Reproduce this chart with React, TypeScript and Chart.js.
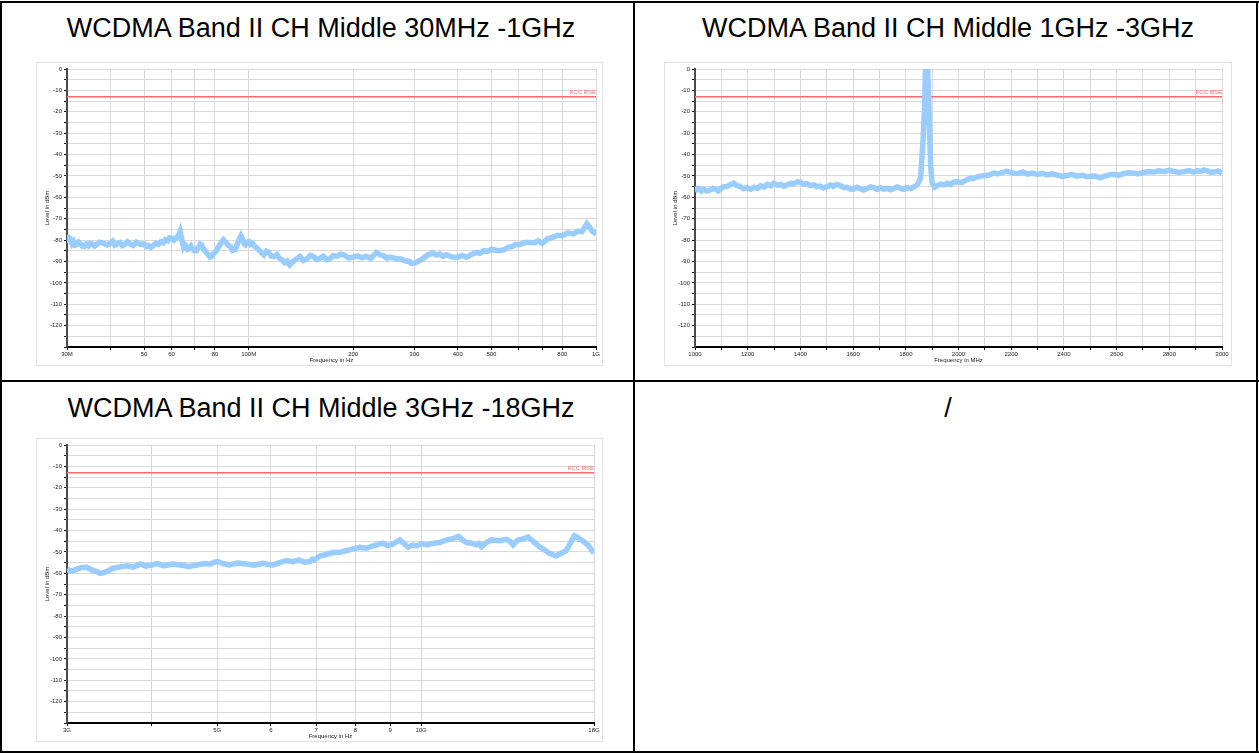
import React, { useEffect, useRef } from 'react';
import { Chart, registerables } from 'chart.js';

Chart.register(...registerables);

// ---------------- data ----------------
const TITLE_LOW = 'WCDMA Band II CH Middle 30MHz -1GHz';
const TITLE_MID = 'WCDMA Band II CH Middle 1GHz -3GHz';
const TITLE_HIGH = 'WCDMA Band II CH Middle 3GHz -18GHz';
const TITLE_EMPTY = '/';

const Y_TITLE = 'Level in dBm';
const LIMIT_LEVEL = -13;
const LIMIT_LABEL = 'FCC RSE';
const Y_MIN = -130;
const Y_MAX = 0;
const Y_GRID = [0, -5, -10, -15, -20, -25, -30, -35, -40, -45, -50, -55, -60, -65, -70, -75, -80, -85, -90, -95, -100, -105, -110, -115, -120, -125, -130];
const Y_LABELS = ['0', '', '-10', '', '-20', '', '-30', '', '-40', '', '-50', '', '-60', '', '-70', '', '-80', '', '-90', '', '-100', '', '-110', '', '-120', '', ''];

// 30 MHz - 1 GHz : [frequency MHz, level dBm]
const LOW_GRID = [30, 40, 50, 60, 70, 80, 100, 200, 300, 400, 500, 600, 700, 800, 1000];
const LOW_LABELS = ['30M', '', '50', '60', '', '80', '100M', '200', '300', '400', '500', '', '', '800', '1G'];
const LOW_TRACE: [number, number][] = [
  [30, -77.6], [30.3, -79.8], [30.6, -79.5], [31.0, -81.6], [31.3, -80.7], [31.6, -82.3], [32.0, -82.0], [32.4, -81.0],
  [32.8, -81.8], [33.2, -82.9], [33.6, -83.0], [34.1, -81.9], [34.6, -82.7], [35.0, -81.5], [35.5, -81.9], [36.0, -82.8],
  [36.5, -82.2], [37.2, -81.0], [38.0, -81.3], [39.0, -82.3], [40, -81.5], [40.6, -80.6], [41.2, -82.4], [41.9, -81.7],
  [42.6, -81.2], [43.3, -82.6], [44.0, -82.0], [44.8, -80.8], [45.6, -81.8], [46.5, -82.5], [47.5, -81.0], [48.7, -81.9],
  [50, -81.8], [50.7, -83.0], [51.5, -82.5], [52.3, -83.4], [53.1, -82.7], [54.0, -81.5], [55.0, -82.0], [55.9, -80.8],
  [56.8, -81.2], [57.6, -79.8], [58.5, -80.3], [59.2, -78.9], [60, -79.1], [61.0, -80.0], [62.1, -78.8], [62.8, -78.0],
  [63.5, -76.0], [64.2, -79.5], [64.9, -83.0], [65.4, -82.0], [66.0, -82.6], [66.8, -84.3], [67.7, -83.8], [68.3, -82.9],
  [69.0, -84.2], [69.9, -85.0], [70.8, -84.9], [71.4, -83.5], [72.0, -83.0], [72.6, -81.9], [73.2, -82.2], [74.1, -84.0],
  [75.0, -85.0], [75.8, -86.2], [76.6, -86.9], [77.4, -88.0], [78.3, -87.7], [79.1, -86.5], [80, -85.8], [81.0, -84.6],
  [82.0, -83.0], [83.3, -81.2], [84.6, -79.9], [85.5, -80.8], [86.5, -81.5], [87.5, -82.6], [88.6, -83.0], [90.0, -84.9],
  [91.5, -84.4], [92.5, -82.5], [93.5, -80.5], [94.3, -79.0], [95, -78.0], [95.8, -79.2], [96.5, -80.5], [97.2, -81.9],
  [97.8, -82.2], [98.9, -81.0], [100, -80.7], [101.2, -82.0], [102.5, -81.5], [104.2, -83.0], [105.9, -83.8], [108.2, -85.5],
  [110.6, -86.9], [112.5, -85.2], [114.3, -85.8], [116.3, -87.5], [118.4, -87.7], [120.5, -86.8], [122.6, -88.5], [124.7, -89.2],
  [126.8, -90.5], [129.0, -89.8], [131.2, -91.6], [133.4, -90.4], [135.6, -89.6], [138.0, -88.6], [140.5, -87.7], [143.7, -89.5],
  [147, -88.9], [150.3, -87.2], [153.6, -87.7], [157.0, -89.0], [160.5, -88.5], [164.1, -87.6], [167.8, -89.3], [171, -88.9],
  [175, -87.3], [180, -87.5], [184, -86.6], [188, -86.9], [194, -88.4], [200, -88.0], [206, -87.4], [212, -88.3],
  [218, -87.6], [225, -88.5], [229, -87.2], [233, -85.8], [239, -86.9], [245, -87.5], [250, -88.4], [256, -88.0],
  [265, -88.6], [275, -88.9], [282, -89.7], [290, -90.0], [295, -90.9], [300, -90.8], [308, -89.9], [316, -88.9],
  [327, -87.0], [339, -86.1], [347, -87.0], [355, -86.5], [363, -87.6], [371, -86.9], [385, -87.9], [400, -88.0],
  [412, -87.2], [424, -88.0], [438, -86.7], [453, -85.8], [464, -86.2], [475, -85.0], [487, -85.3], [500, -84.3],
  [520, -85.0], [543, -84.6], [558, -83.4], [575, -83.0], [588, -82.0], [600, -82.2], [630, -81.0], [665, -81.2],
  [682, -80.4], [700, -81.5], [725, -79.4], [753, -78.6], [775, -77.8], [800, -78.0], [830, -76.6], [862, -77.1],
  [888, -75.8], [912, -76.0], [925, -74.5], [940, -72.5], [950, -73.6], [960, -74.0], [970, -75.4], [980, -76.0],
  [990, -76.3], [1000, -77.6],
];

// 1 GHz - 3 GHz : [frequency MHz, level dBm]
const MID_GRID = [1000, 1100, 1200, 1300, 1400, 1500, 1600, 1700, 1800, 1900, 2000, 2100, 2200, 2300, 2400, 2500, 2600, 2700, 2800, 2900, 3000];
const MID_LABELS = ['1000', '', '1200', '', '1400', '', '1600', '', '1800', '', '2000', '', '2200', '', '2400', '', '2600', '', '2800', '', '3000'];
const MID_TRACE: [number, number][] = [
  [1000, -55.0], [1008, -56.4], [1015, -56.0], [1024, -57.0], [1033, -56.2], [1045, -57.1], [1058, -56.6], [1068, -55.8],
  [1080, -56.3], [1088, -57.0], [1097, -55.9], [1108, -55.1], [1120, -55.0], [1134, -54.1], [1147, -53.4], [1158, -54.6],
  [1170, -54.8], [1184, -56.0], [1198, -55.5], [1212, -56.2], [1225, -55.3], [1237, -55.8], [1249, -54.6], [1262, -55.2],
  [1275, -54.0], [1287, -54.6], [1299, -53.4], [1312, -54.3], [1325, -54.0], [1337, -54.8], [1350, -54.2], [1362, -53.5],
  [1375, -53.6], [1388, -52.8], [1400, -52.9], [1412, -53.9], [1425, -53.6], [1438, -54.5], [1451, -54.2], [1463, -55.0],
  [1475, -54.8], [1488, -55.6], [1502, -55.0], [1514, -54.2], [1525, -54.9], [1538, -54.0], [1552, -54.6], [1565, -55.5],
  [1578, -55.3], [1590, -56.2], [1603, -56.1], [1615, -55.3], [1628, -56.0], [1640, -56.6], [1653, -55.9], [1667, -55.1],
  [1680, -55.6], [1692, -56.3], [1704, -55.5], [1717, -56.2], [1730, -55.8], [1742, -56.5], [1754, -55.9], [1767, -55.2],
  [1780, -55.8], [1792, -56.3], [1805, -55.5], [1818, -55.9], [1830, -55.2], [1843, -54.2], [1856, -51.1], [1866, -32.4],
  [1872, -15.5], [1876, 8], [1881, 8], [1887, -15.0], [1894, -44.8], [1900, -53.4], [1910, -55.3], [1919, -54.6],
  [1932, -53.8], [1945, -54.2], [1958, -53.4], [1970, -54.0], [1982, -52.9], [1995, -52.7], [2012, -53.1], [2030, -52.0],
  [2044, -51.0], [2058, -51.1], [2077, -50.2], [2096, -49.9], [2115, -49.6], [2134, -48.7], [2150, -49.1], [2165, -48.4],
  [2181, -47.8], [2197, -48.2], [2213, -48.9], [2230, -48.8], [2245, -48.2], [2261, -49.2], [2280, -48.7], [2300, -49.3],
  [2318, -48.8], [2337, -49.5], [2356, -49.0], [2375, -49.6], [2394, -50.2], [2412, -49.8], [2430, -49.3], [2450, -50.1],
  [2470, -49.7], [2488, -50.4], [2514, -50.0], [2539, -50.9], [2550, -50.2], [2560, -50.0], [2575, -49.4], [2589, -49.2],
  [2607, -49.7], [2625, -49.0], [2645, -48.5], [2665, -48.7], [2682, -49.1], [2700, -48.5], [2720, -48.0], [2741, -48.2],
  [2760, -47.6], [2780, -48.0], [2798, -47.4], [2817, -47.9], [2836, -48.4], [2855, -48.0], [2874, -47.5], [2893, -48.2],
  [2906, -47.6], [2920, -47.9], [2932, -47.2], [2944, -47.6], [2957, -48.3], [2970, -48.2], [2985, -47.7], [3000, -48.7],
];

// 3 GHz - 18 GHz : [frequency GHz, level dBm]
const HIGH_GRID = [3, 4, 5, 6, 7, 8, 9, 10, 18];
const HIGH_LABELS = ['3G', '', '5G', '6', '7', '8', '9', '10G', '18G'];
const HIGH_TRACE: [number, number][] = [
  [3.0, -58.1], [3.05, -59.0], [3.1, -58.1], [3.15, -57.3], [3.21, -57.2], [3.26, -58.4], [3.32, -59.2], [3.36, -60.0],
  [3.4, -59.7], [3.45, -58.9], [3.51, -57.6], [3.6, -57.0], [3.68, -56.5], [3.76, -57.1], [3.85, -55.6], [3.92, -56.6],
  [4.0, -56.1], [4.08, -55.5], [4.17, -56.5], [4.29, -55.7], [4.41, -56.1], [4.54, -56.8], [4.67, -56.1], [4.78, -55.4],
  [4.89, -55.6], [4.95, -54.8], [5.01, -54.5], [5.1, -55.5], [5.21, -56.1], [5.36, -55.2], [5.51, -55.6], [5.67, -56.2],
  [5.84, -55.3], [5.94, -55.8], [6.04, -56.1], [6.18, -55.0], [6.33, -54.0], [6.46, -54.6], [6.6, -53.7], [6.72, -54.8],
  [6.85, -54.5], [6.91, -53.4], [6.97, -53.7], [7.02, -52.8], [7.08, -51.9], [7.24, -51.2], [7.41, -50.3], [7.58, -50.2],
  [7.76, -49.4], [7.94, -48.6], [8.12, -47.8], [8.3, -48.3], [8.49, -47.2], [8.63, -46.6], [8.78, -45.9], [8.91, -47.0],
  [9.04, -46.7], [9.17, -45.5], [9.3, -44.4], [9.43, -46.0], [9.57, -47.8], [9.71, -46.8], [9.85, -47.2], [10.02, -46.1],
  [10.2, -46.7], [10.43, -45.9], [10.66, -45.6], [10.85, -44.6], [11.03, -44.1], [11.19, -43.6], [11.35, -42.8], [11.5, -44.3],
  [11.67, -45.6], [11.87, -45.9], [12.08, -46.7], [12.18, -46.1], [12.28, -47.5], [12.49, -45.6], [12.7, -44.4], [13.03, -44.8],
  [13.37, -44.1], [13.52, -45.0], [13.67, -46.7], [13.78, -45.4], [13.9, -44.4], [14.14, -43.9], [14.38, -43.1], [14.66, -45.2],
  [14.94, -47.5], [15.2, -49.0], [15.46, -50.6], [15.64, -51.2], [15.82, -51.9], [16.1, -50.6], [16.37, -49.4], [16.6, -46.0],
  [16.84, -42.5], [17.07, -43.6], [17.3, -44.7], [17.65, -46.8], [18.0, -50.6],
];

// ---------------- styling ----------------
const FONT = '"Liberation Sans", Arial, sans-serif';
const TRACE = 'rgb(153,204,255)';
const LIMIT_COLOR = 'rgb(255,105,105)';

const limitLabelPlugin = {
  id: 'limitLabel',
  afterDatasetsDraw(chart: any) {
    const { ctx, chartArea, scales } = chart;
    const y = scales.y.getPixelForValue(LIMIT_LEVEL);
    ctx.save();
    ctx.font = `6px ${FONT}`;
    ctx.fillStyle = LIMIT_COLOR;
    ctx.textAlign = 'right';
    ctx.textBaseline = 'bottom';
    ctx.fillText(LIMIT_LABEL, chartArea.right, y - 1);
    ctx.restore();
  },
};

type SpecProps = {
  left: number;
  top: number;
  width: number;
  height: number;
  xType: 'linear' | 'logarithmic';
  grid: number[];
  labels: string[];
  trace: [number, number][];
  xTitle: string;
  padRight: number;
};

function SpectrumChart(p: SpecProps) {
  const ref = useRef<HTMLCanvasElement | null>(null);
  useEffect(() => {
    if (!ref.current) return;
    const xMin = p.grid[0];
    const xMax = p.grid[p.grid.length - 1];
    const chart = new Chart(ref.current, {
      type: 'line',
      data: {
        datasets: [
          {
            data: [
              { x: xMin, y: LIMIT_LEVEL },
              { x: xMax, y: LIMIT_LEVEL },
            ],
            borderColor: LIMIT_COLOR,
            borderWidth: 1.5,
            pointRadius: 0,
            order: 2,
          },
          {
            data: p.trace.map(([x, y]) => ({ x, y })),
            borderColor: TRACE,
            backgroundColor: TRACE,
            borderWidth: 5.5,
            pointRadius: 0,
            tension: 0,
            borderJoinStyle: 'miter',
            order: 1,
          },
        ],
      },
      options: {
        animation: false,
        responsive: false,
        maintainAspectRatio: false,
        layout: { padding: { left: 0, right: p.padRight, top: 6, bottom: 0 } },
        plugins: { legend: { display: false }, tooltip: { enabled: false } },
        scales: {
          x: {
            type: p.xType,
            min: xMin,
            max: xMax,
            afterBuildTicks: (s: any) => {
              s.ticks = p.grid.map((v) => ({ value: v }));
            },
            afterFit: (s: any) => {
              s.height = 18;
              s.paddingLeft = 0;
              s.paddingRight = 0;
            },
            ticks: {
              autoSkip: false,
              maxRotation: 0,
              minRotation: 0,
              padding: 1,
              color: '#222',
              font: { size: 6, family: FONT },
              callback: (_v: any, i: number) => p.labels[i] ?? '',
            },
            grid: { color: '#d9d9d9', lineWidth: 1, tickColor: '#000', tickLength: 3, drawTicks: true },
            border: { display: true, color: '#000', width: 2 },
            title: {
              display: true,
              text: p.xTitle,
              color: '#222',
              font: { size: 6, family: FONT },
              padding: { top: 0, bottom: 1 },
            },
          },
          y: {
            type: 'linear',
            min: Y_MIN,
            max: Y_MAX,
            afterBuildTicks: (s: any) => {
              s.ticks = Y_GRID.map((v) => ({ value: v }));
            },
            afterFit: (s: any) => {
              s.width = 30;
              s.paddingTop = 0;
              s.paddingBottom = 0;
            },
            ticks: {
              autoSkip: false,
              padding: 2,
              color: '#222',
              font: { size: 6, family: FONT },
              callback: (_v: any, i: number) => Y_LABELS[i] ?? '',
            },
            grid: { color: '#d9d9d9', lineWidth: 1, tickColor: '#000', tickLength: 3, drawTicks: true },
            border: { display: true, color: '#4a4a4a', width: 2 },
            title: {
              display: true,
              text: Y_TITLE,
              color: '#222',
              font: { size: 6, family: FONT },
              padding: { top: 7, bottom: 0 },
            },
          },
        },
      },
      plugins: [limitLabelPlugin],
    } as any);
    return () => chart.destroy();
  }, []);
  return (
    <div
      style={{
        position: 'absolute',
        left: p.left,
        top: p.top,
        width: p.width,
        height: p.height,
        border: '1px solid #e2e2e2',
        boxSizing: 'border-box',
        background: '#fff',
      }}
    >
      <canvas ref={ref} width={p.width - 2} height={p.height - 2} style={{ display: 'block' }} />
    </div>
  );
}

function Line(props: { left: number; top: number; width: number; height: number }) {
  return <div style={{ position: 'absolute', background: '#000', ...props }} />;
}

function Title(props: { cx: number; top: number; text: string }) {
  return (
    <div
      style={{
        position: 'absolute',
        left: props.cx - 310,
        top: props.top,
        width: 620,
        textAlign: 'center',
        fontFamily: FONT,
        fontSize: 27,
        lineHeight: '31px',
        color: '#000',
        whiteSpace: 'nowrap',
      }}
    >
      {props.text}
    </div>
  );
}

export default function App() {
  return (
    <div
      style={{
        position: 'fixed',
        left: 0,
        top: 0,
        width: 1259,
        height: 753,
        background: '#fff',
        overflow: 'hidden',
      }}
    >
      <Line left={0} top={1} width={1259} height={2} />
      <Line left={0} top={1} width={2} height={752} />
      <Line left={1256} top={1} width={2} height={752} />
      <Line left={633} top={1} width={2} height={752} />
      <Line left={0} top={380} width={1259} height={2} />
      <Line left={0} top={751} width={1259} height={2} />

      <Title cx={321} top={13} text={TITLE_LOW} />
      <Title cx={948} top={13} text={TITLE_MID} />
      <Title cx={321} top={393} text={TITLE_HIGH} />
      <Title cx={948} top={393} text={TITLE_EMPTY} />

      <SpectrumChart
        left={36}
        top={62}
        width={567}
        height={304}
        xType="logarithmic"
        grid={LOW_GRID}
        labels={LOW_LABELS}
        trace={LOW_TRACE}
        xTitle="Frequency in Hz"
        padRight={6}
      />
      <SpectrumChart
        left={664}
        top={62}
        width={568}
        height={304}
        xType="linear"
        grid={MID_GRID}
        labels={MID_LABELS}
        trace={MID_TRACE}
        xTitle="Frequency in MHz"
        padRight={9}
      />
      <SpectrumChart
        left={36}
        top={438}
        width={567}
        height={304}
        xType="logarithmic"
        grid={HIGH_GRID}
        labels={HIGH_LABELS}
        trace={HIGH_TRACE}
        xTitle="Frequency in Hz"
        padRight={8}
      />
    </div>
  );
}
